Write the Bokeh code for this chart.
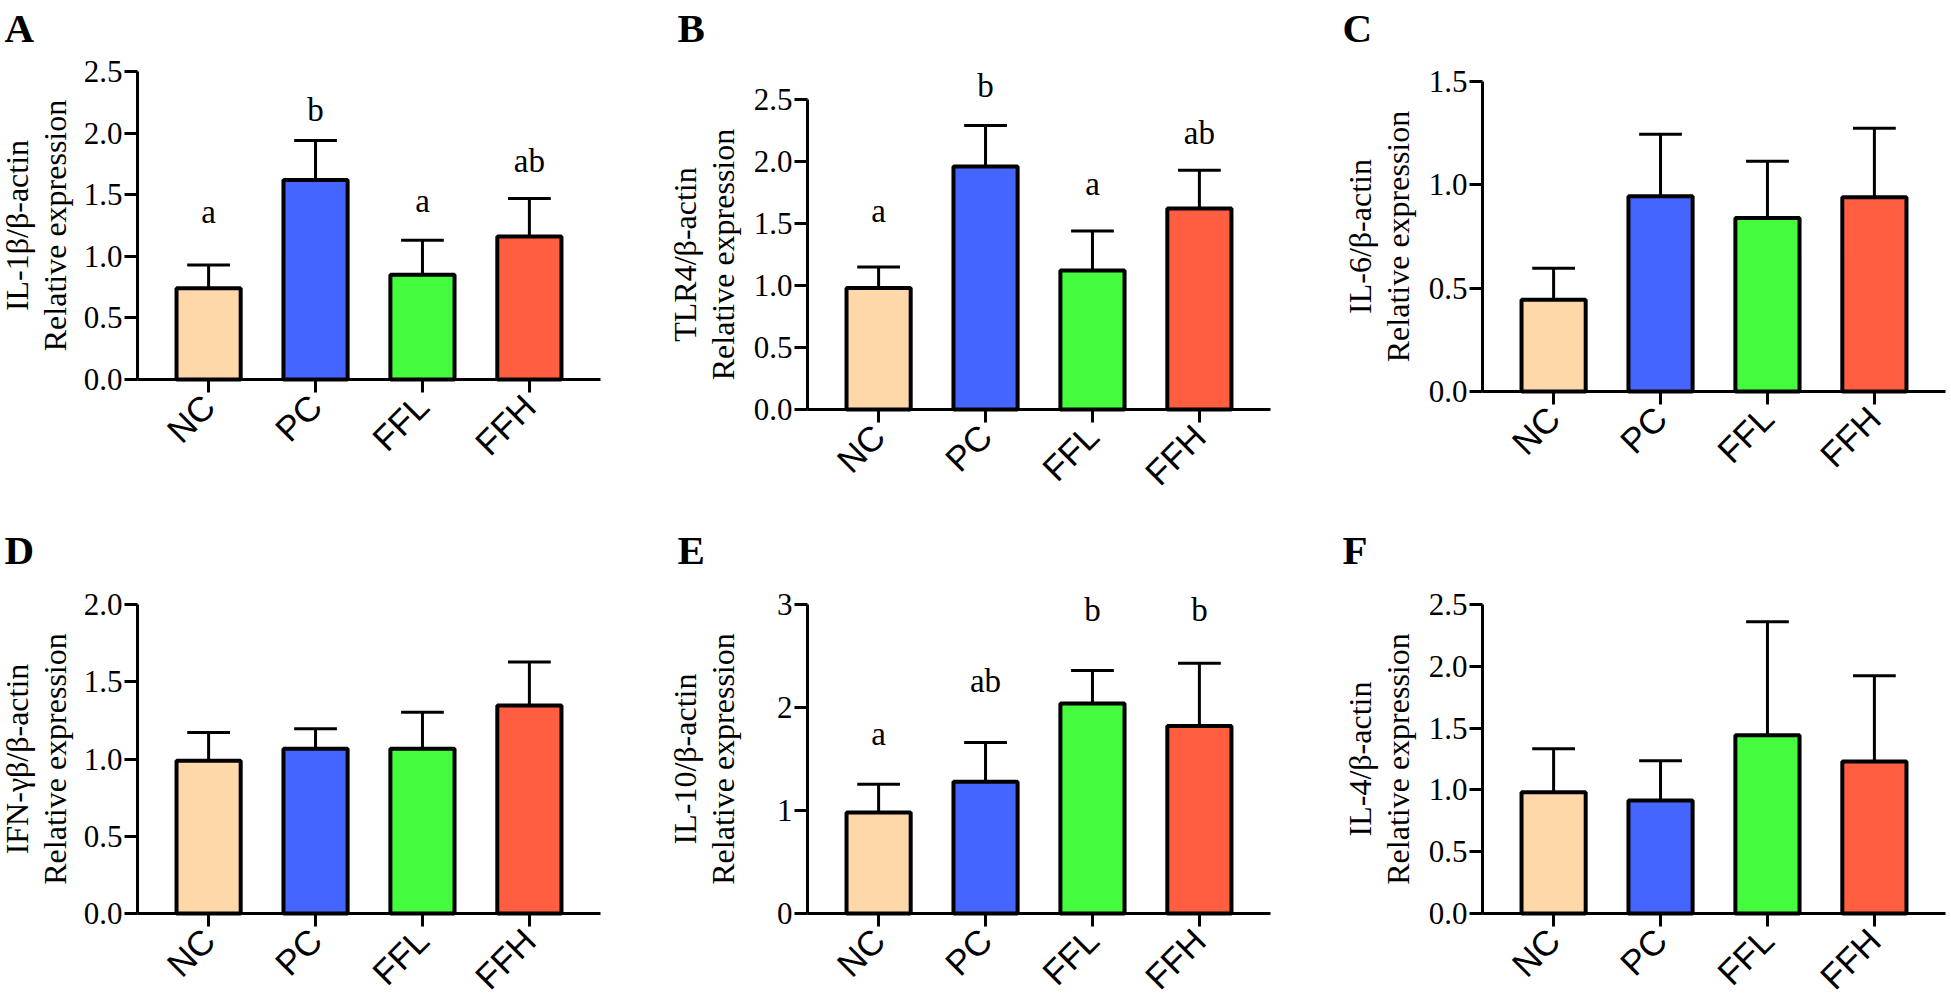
import math
from bokeh.plotting import figure
from bokeh.models import FixedTicker, Label, Range1d, ColumnDataSource
from bokeh.layouts import row, column
from bokeh.embed import file_html
from bokeh.resources import INLINE

# ---------------- data ----------------
groups = ["NC", "PC", "FFL", "FFH"]
bar_colors = ["#FFD8AA", "#4466FF", "#44FB3E", "#FF5E40"]

il1b_mean = [0.74, 1.62, 0.85, 1.16]
il1b_upper = [0.93, 1.94, 1.13, 1.47]
il1b_letters = ["a", "b", "a", "ab"]
il1b_letter_y = [1.265, 2.10, 1.36, 1.684]

tlr4_mean = [0.98, 1.96, 1.12, 1.62]
tlr4_upper = [1.15, 2.29, 1.44, 1.93]
tlr4_letters = ["a", "b", "a", "ab"]
tlr4_letter_y = [1.51, 2.52, 1.727, 2.139]

il6_mean = [0.444, 0.945, 0.84, 0.94]
il6_upper = [0.596, 1.245, 1.114, 1.274]

ifng_mean = [0.988, 1.066, 1.066, 1.347]
ifng_upper = [1.172, 1.196, 1.302, 1.628]

il10_mean = [0.98, 1.28, 2.04, 1.82]
il10_upper = [1.255, 1.66, 2.36, 2.43]
il10_letters = ["a", "ab", "b", "b"]
il10_letter_y = [1.638, 2.147, 2.838, 2.838]

il4_mean = [0.98, 0.914, 1.443, 1.23]
il4_upper = [1.332, 1.235, 2.36, 1.924]

ticks_25 = [0.0, 0.5, 1.0, 1.5, 2.0, 2.5]
ticks_15 = [0.0, 0.5, 1.0, 1.5]
ticks_20 = [0.0, 0.5, 1.0, 1.5, 2.0]
ticks_3 = [0, 1, 2, 3]
labels_25 = ["0.0", "0.5", "1.0", "1.5", "2.0", "2.5"]
labels_15 = ["0.0", "0.5", "1.0", "1.5"]
labels_20 = ["0.0", "0.5", "1.0", "1.5", "2.0"]
labels_3 = ["0", "1", "2", "3"]

ylabels = ["IL-1β/β-actin", "TLR4/β-actin", "IL-6/β-actin",
           "IFN-γβ/β-actin", "IL-10/β-actin", "IL-4/β-actin"]
ylabel_line2 = "Relative expression"
panel_letters = ["A", "B", "C", "D", "E", "F"]

# ---------------- style / layout (pixels on the page) ----------------
XS, XE = -0.665, 3.665          # visible category span of each plot
PLOT_W = 463                    # px from y axis to end of x axis
PPU = PLOT_W / (XE - XS)
SERIF = "Liberation Serif"
SANS = "Liberation Sans"
SIG_PX = 33                     # significance letter font size
PANEL_PX = 41                   # panel letter font size
MID = 0.34                      # em-box middle above the baseline (fraction of size)

COL_LEFT = [0, 650, 1310]
COL_W = [650, 660, 640]
ROW_TOP = [0, 496]
ROW_H = [496, 499]


def make_panel(letter, ylabel, mean, upper, ticks, tick_labels, letters, letter_y,
               col, rw, axis_x, axis_y, top_y, letter_x, letter_base):
    fig_left, W = COL_LEFT[col], COL_W[col]
    fig_top, H = ROW_TOP[rw], ROW_H[rw]
    ymax = ticks[-1]
    yppu = (axis_y - top_y) / ymax
    x0 = XS - (axis_x - fig_left) / PPU
    x1 = x0 + W / PPU
    y0 = -(fig_top + H - axis_y) / yppu
    y1 = (axis_y - fig_top) / yppu

    p = figure(width=W, height=H, x_range=Range1d(x0, x1), y_range=Range1d(y0, y1),
               output_backend="svg", toolbar_location=None, title=None,
               min_border_left=0, min_border_right=0, min_border_top=0,
               min_border_bottom=0)
    p.grid.visible = False
    p.outline_line_color = None
    p.background_fill_color = "white"
    p.border_fill_color = "white"

    xs = list(range(len(groups)))
    src = ColumnDataSource(dict(x=xs, top=mean, upper=upper, color=bar_colors))
    # error bars (upward only)
    p.segment(x0="x", y0="top", x1="x", y1="upper", source=src,
              line_color="black", line_width=3)
    cap = 0.2
    p.segment(x0=[x - cap for x in xs], y0=upper, x1=[x + cap for x in xs], y1=upper,
              line_color="black", line_width=3)
    p.vbar(x="x", top="top", bottom=0, width=0.6, source=src, fill_color="color",
           line_color="black", line_width=4)

    # x axis at y = 0
    xa = p.xaxis
    xa.fixed_location = 0
    xa.bounds = (XS, XE)
    xa.ticker = FixedTicker(ticks=xs)
    xa.major_label_overrides = {i: g for i, g in enumerate(groups)}
    xa.major_label_orientation = math.pi / 4
    xa.major_label_text_font = SANS
    xa.major_label_text_font_size = "35px"
    xa.major_label_text_color = "black"
    xa.major_label_standoff = 8
    xa.major_tick_out = 13
    xa.major_tick_in = 0
    xa.minor_tick_line_color = None
    xa.axis_line_width = 3
    xa.major_tick_line_width = 3
    xa.axis_line_color = "black"
    xa.major_tick_line_color = "black"

    # y axis at the left end of the category span
    ya = p.yaxis
    ya.fixed_location = XS
    ya.bounds = (0, ymax)
    ya.ticker = FixedTicker(ticks=ticks)
    ya.major_label_overrides = {t: l for t, l in zip(ticks, tick_labels)}
    ya.major_label_text_font = SERIF
    ya.major_label_text_font_size = "31px"
    ya.major_label_text_color = "black"
    ya.major_label_standoff = 2
    ya.major_tick_out = 13
    ya.major_tick_in = 0
    ya.minor_tick_line_color = None
    ya.axis_line_width = 3
    ya.major_tick_line_width = 3
    ya.axis_line_color = "black"
    ya.major_tick_line_color = "black"

    # y axis title (two lines)
    ymid = ymax / 2
    c1 = max(axis_x - 123, fig_left + 16)
    c2 = max(axis_x - 85, fig_left + 54)
    for txt, cx in ((ylabel, c1), (ylabel_line2, c2)):
        p.add_layout(Label(x=x0 + (cx - fig_left) / PPU, y=ymid, text=txt,
                           angle=math.pi / 2, text_font=SERIF, text_font_size="32px",
                           text_color="black", text_align="center",
                           text_baseline="middle"))
    # panel letter
    lx = max(letter_x, fig_left + 1)
    p.add_layout(Label(x=x0 + (lx - fig_left) / PPU,
                       y=(axis_y - letter_base + MID * PANEL_PX) / yppu, text=letter,
                       text_font=SERIF, text_font_size=f"{PANEL_PX}px",
                       text_font_style="bold", text_color="black",
                       text_align="left", text_baseline="middle"))
    # significance letters
    if letters:
        for i, (t, ly) in enumerate(zip(letters, letter_y)):
            p.add_layout(Label(x=xs[i], y=ly + MID * SIG_PX / yppu, text=t,
                               text_font=SERIF, text_font_size=f"{SIG_PX}px",
                               text_color="black", text_align="center",
                               text_baseline="middle"))
    return p


pA = make_panel("A", ylabels[0], il1b_mean, il1b_upper, ticks_25, labels_25,
                il1b_letters, il1b_letter_y, 0, 0, 137, 379, 71, 4, 41)
pB = make_panel("B", ylabels[1], tlr4_mean, tlr4_upper, ticks_25, labels_25,
                tlr4_letters, tlr4_letter_y, 1, 0, 807, 409, 99, 677, 41)
pC = make_panel("C", ylabels[2], il6_mean, il6_upper, ticks_15, labels_15,
                None, None, 2, 0, 1482, 391, 81, 1342, 41)
pD = make_panel("D", ylabels[3], ifng_mean, ifng_upper, ticks_20, labels_20,
                None, None, 0, 1, 137, 913, 604, 4, 563)
pE = make_panel("E", ylabels[4], il10_mean, il10_upper, ticks_3, labels_3,
                il10_letters, il10_letter_y, 1, 1, 807, 913, 604, 677, 563)
pF = make_panel("F", ylabels[5], il4_mean, il4_upper, ticks_25, labels_25,
                None, None, 2, 1, 1482, 913, 604, 1342, 563)

layout = column(row(pA, pB, pC), row(pD, pE, pF))
open("out.html", "w").write(file_html(layout, INLINE))
